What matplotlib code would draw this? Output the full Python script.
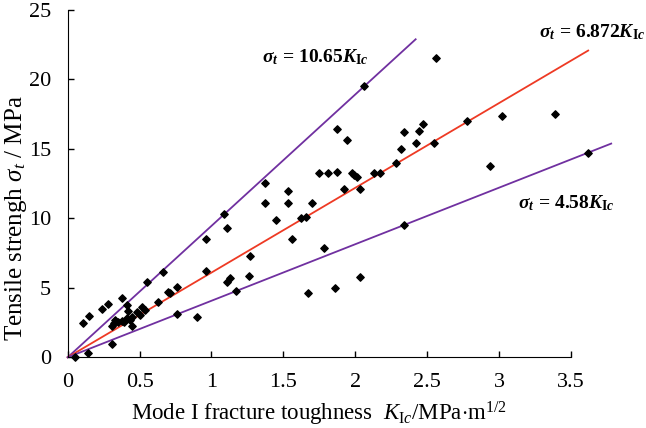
import numpy as np
import matplotlib
matplotlib.use("Agg")
import matplotlib.pyplot as plt

plt.rcParams['font.family'] = 'Liberation Serif'
plt.rcParams['mathtext.fontset'] = 'custom'
plt.rcParams['mathtext.rm'] = 'Liberation Serif'
plt.rcParams['mathtext.it'] = 'Liberation Serif:italic'
plt.rcParams['mathtext.bf'] = 'Liberation Serif:bold'
plt.rcParams['mathtext.bfit'] = 'Liberation Serif:bold:italic'

# data (K_Ic, sigma_t)
k_ic = [0.05, 0.14, 0.31, 0.105, 0.15, 0.24, 0.28, 0.38, 0.41, 0.63,
        0.66, 0.55, 0.76, 0.71, 0.76, 0.90, 0.96, 0.96, 1.11, 1.13,
        1.26, 1.27, 1.17, 1.11, 1.09, 1.37, 1.37, 1.53, 1.53, 1.70,
        1.45, 1.62, 1.66, 1.56, 1.78, 1.67, 1.86, 2.03, 1.75, 1.81,
        1.87, 1.98, 1.99, 2.01, 1.92, 2.03, 2.13, 2.17, 2.28, 2.32,
        2.34, 2.44, 2.47, 2.42, 2.55, 1.87, 1.94, 2.06, 2.56, 2.78,
        3.02, 3.39, 2.94, 3.62, 2.34,
        0.42, 0.41, 0.52, 0.48, 0.50, 0.45, 0.435, 0.39, 0.35, 0.32,
        0.33, 0.31, 0.45, 0.38, 0.54, 0.70]
sigma_t = [0.05, 0.29, 0.94, 2.49, 2.98, 3.50, 3.81, 4.30, 3.77, 4.01,
           6.17, 5.41, 5.09, 4.61, 3.10, 2.88, 6.20, 8.51, 5.41, 5.70,
           5.88, 7.30, 4.78, 9.30, 10.33, 12.54, 11.12, 11.94, 11.12, 11.12,
           9.90, 10.02, 10.12, 8.51, 7.88, 4.61, 4.97, 5.79, 13.24, 13.24,
           13.34, 13.27, 13.14, 13.00, 12.13, 12.13, 13.27, 13.27, 13.96, 15.02,
           16.22, 16.32, 16.82, 15.43, 15.40, 16.44, 15.62, 19.56, 21.53, 17.04,
           17.35, 17.54, 13.74, 14.71, 9.52,
           3.34, 2.81, 3.65, 3.29, 3.05, 2.93, 2.69, 2.57, 2.52, 2.45,
           2.69, 2.28, 2.28, 2.62, 3.41, 4.73]

# fitted lines as drawn: slope, end of line, label
slopes = [9.46, 6.10, 4.07]
x_ends = [2.42, 3.62, 3.78]
line_colors = ['#7030A0', '#EE3A24', '#7030A0']
labels = [r'$\mathbfit{\sigma}_{\mathbfit{t}}\mathbf{\,=\,10.65}\mathbfit{K}_{\mathbf{I}\mathbfit{c}}$',
          r'$\mathbfit{\sigma}_{\mathbfit{t}}\mathbf{\,=\,6.872}\mathbfit{K}_{\mathbf{I}\mathbfit{c}}$',
          r'$\mathbfit{\sigma}_{\mathbfit{t}}\mathbf{\,=\,4.58}\mathbfit{K}_{\mathbf{I}\mathbfit{c}}$']
label_pos = [(1.35, 21.6), (3.28, 23.4), (3.13, 11.1)]

fig = plt.figure(figsize=(6.46, 4.28), dpi=100)
ax = fig.add_axes([0.1048, 0.1652, 0.779, 0.8114])

for s, xe, c in zip(slopes, x_ends, line_colors):
    xs = np.array([0, xe])
    ax.plot(xs, s * xs, color=c, lw=1.3, clip_on=False, zorder=2)

ax.scatter(k_ic, sigma_t, marker='D', s=14, color='black', zorder=3, clip_on=False)

for lab, (tx, ty) in zip(labels, label_pos):
    ax.text(tx, ty, lab, fontsize=14, ha='left', va='center')

ax.set_xlim(0, 3.5)
ax.set_ylim(0, 25)
ax.set_xticks([0, 0.5, 1, 1.5, 2, 2.5, 3, 3.5])
ax.set_xticklabels(['0', '0.5', '1', '1.5', '2', '2.5', '3', '3.5'])
ax.set_yticks([0, 5, 10, 15, 20, 25])
ax.spines['top'].set_visible(False)
ax.spines['right'].set_visible(False)
ax.tick_params(direction='in', length=4, width=1, labelsize=16)
ax.tick_params(axis='x', pad=11)
ax.tick_params(axis='y', pad=12)
ax.set_xlabel(r'Mode I fracture toughness  $K_{\mathrm{I}c}$/MPa$\cdot$m$^{1/2}$', fontsize=16.5, labelpad=6)
ax.set_ylabel(r'Tensile strengh $\sigma_t$ / MPa', fontsize=18, va='center')
ax.yaxis.set_label_coords(-0.102, 0.40)

fig.savefig('out.png', dpi=100)
